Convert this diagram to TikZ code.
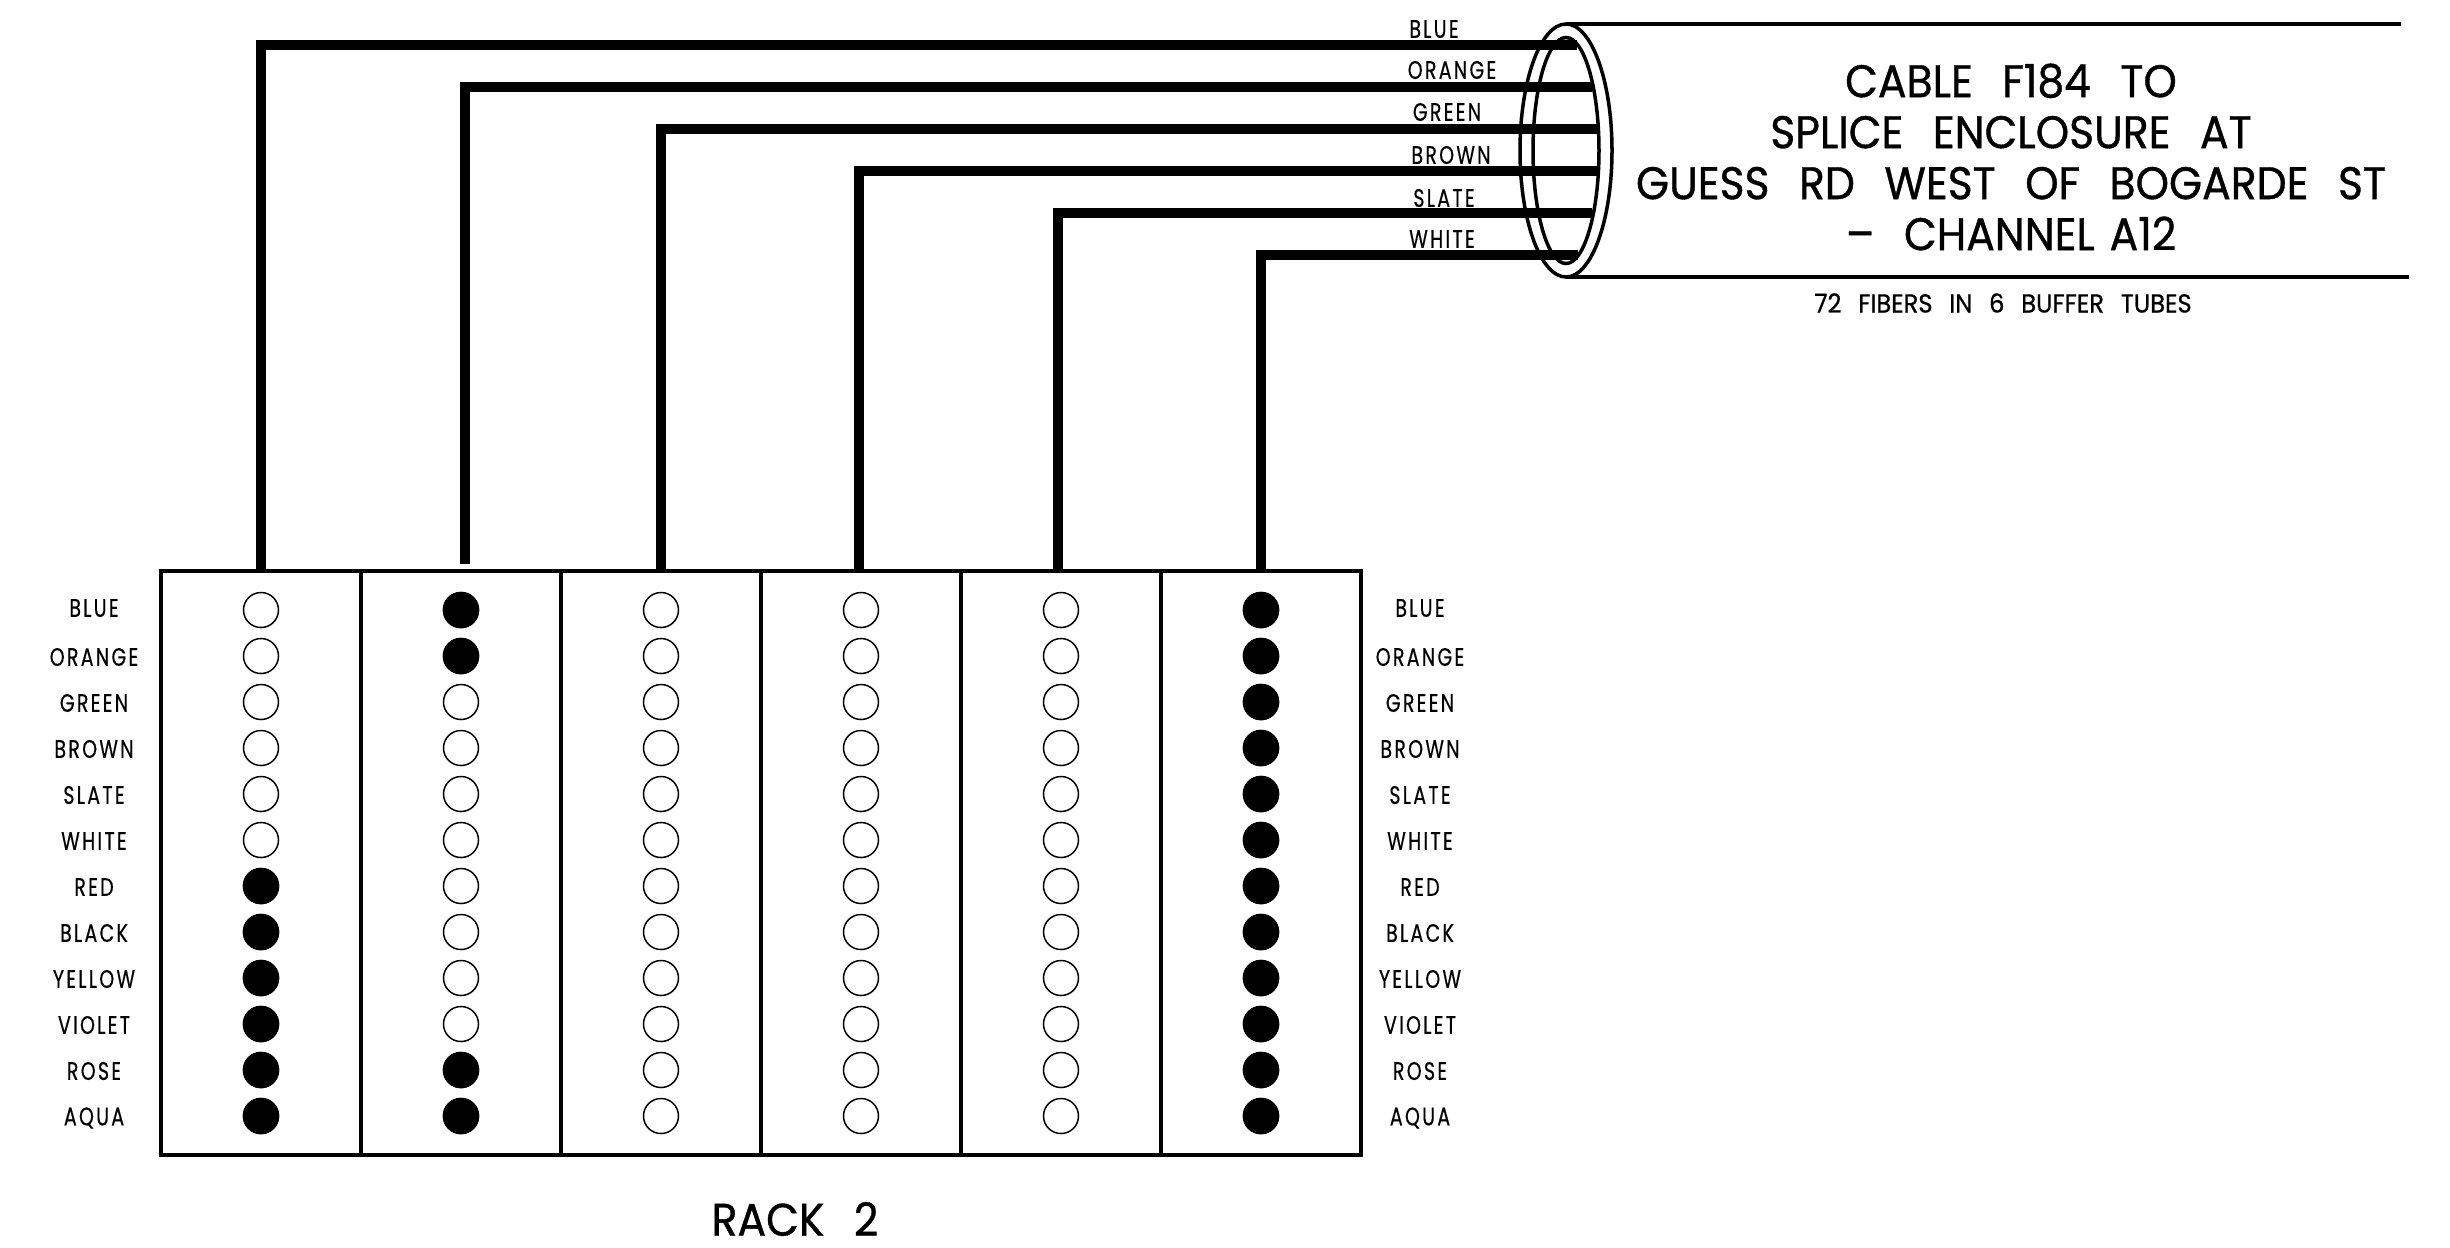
\documentclass[tikz,border=0pt]{standalone}
\usepackage{fontspec}
\usepackage{tikz}
\newfontfamily\tagfont[LetterSpace=9,FakeStretch=0.75,FakeBold=0.4]{Poppins}
\newfontfamily\headfont[WordSpace=1.3,FakeStretch=0.93,FakeBold=0.8]{Poppins}
\tikzset{
	wire/.style={line width=0.095cm},
	tube/.style={line width=0.035cm},
	cell/.style={draw,line width=0.035cm,minimum width=2cm,minimum height=5.84cm,inner sep=0pt},
	pinopen/.style={circle,draw,line width=0.015cm,minimum size=0.35cm,inner sep=0pt},
	pinfull/.style={pinopen,fill=black},
	colortag/.style={font=\fontsize{7.2}{8.6}\selectfont\tagfont,inner sep=0pt},
	headtag/.style={font=\fontsize{13}{14.5}\selectfont\headfont,inner sep=0pt,align=center},
	subtag/.style={font=\fontsize{7.4}{9}\selectfont\headfont,inner sep=0pt}
}

\begin{document}
\begin{tikzpicture}[x=0.01cm,y=-0.01cm]
		\useasboundingbox (0,0) rectangle (2450,1247);
		\begin{scope}
			% rack
			\foreach \Nombre/\X in {1/261,2/461,3/661,4/861,5/1061,6/1261}
			\node[cell] (cell\Nombre) at (\X,863) {};
			% pins
			\foreach \Col/\X in {1/261,2/461,3/661,4/861,5/1061,6/1261}
			\foreach \Row in {1,...,12}
			\node[pinopen] (pin\Col-\Row) at (\X,{564+46*\Row}) {};
			\foreach \Row in {7,...,12}
			\node[pinfull] at (pin1-\Row) {};
			\foreach \Row in {1,2,11,12}
			\node[pinfull] at (pin2-\Row) {};
			\foreach \Row in {1,...,12}
			\node[pinfull] at (pin6-\Row) {};
			% colour names either side
			\foreach \Row/\Y/\Nom in {1/608/BLUE,2/657/ORANGE,3/703/GREEN,4/749/BROWN,5/795/SLATE,6/841/WHITE,7/887/RED,8/933/BLACK,9/979/YELLOW,10/1025/VIOLET,11/1071/ROSE,12/1118/AQUA}{
				\node[colortag] (left\Row) at (94,\Y) {\Nom};
				\node[colortag] (right\Row) at (1420,\Y) {\Nom};
			}
			% cable end
			\coordinate (mouth) at (1566,150.5);
			\draw[tube] (mouth) ellipse [x radius=46,y radius=126.5];
			\draw[tube] (mouth) ellipse [x radius=33,y radius=113];
			\coordinate (t1) at (1566,24);
			\coordinate (t2) at (2401,24);
			\coordinate (b1) at (1566,277);
			\coordinate (b2) at (2409,277);
			\draw[tube] (t1) -- (t2);
			\draw[tube] (b1) -- (b2);
			% wires
			\coordinate (s1) at (1577,45);
			\coordinate (s2) at (1592,87);
			\coordinate (s3) at (1597,129);
			\coordinate (s4) at (1597,171);
			\coordinate (s5) at (1592,213);
			\coordinate (s6) at (1578,255);
			\coordinate (e1) at (261,571);
			\coordinate (e2) at (465,564);
			\coordinate (e3) at (661,571);
			\coordinate (e4) at (859,571);
			\coordinate (e5) at (1058,571);
			\coordinate (e6) at (1261,571);
			\foreach \Nombre in {1,2,3,4,5,6}
			\draw[wire] (s\Nombre) -| (e\Nombre);
			% fibre names on the wires
			\node[colortag] (top1) at (1434,29) {BLUE};
			\node[colortag] (top2) at (1452,70) {ORANGE};
			\node[colortag] (top3) at (1447,112) {GREEN};
			\node[colortag] (top4) at (1451,155) {BROWN};
			\node[colortag] (top5) at (1444,198) {SLATE};
			\node[colortag] (top6) at (1442,239) {WHITE};
			% text
			\node[headtag] (title) at (2011,157) {CABLE\ \ F184\ \ TO\\SPLICE\ \ ENCLOSURE\ \ AT\\GUESS\ \ RD\ \ WEST\ \ OF\ \ BOGARDE\ \ ST\\–\ \ CHANNEL\ A12};
			\node[subtag] (fibers) at (2003,303) {72\ \ FIBERS\ \ IN\ \ 6\ \ BUFFER\ \ TUBES};
			\node[headtag] (rack) at (795,1219) {RACK\ \ 2};
		\end{scope}
	\end{tikzpicture}
\end{document}
